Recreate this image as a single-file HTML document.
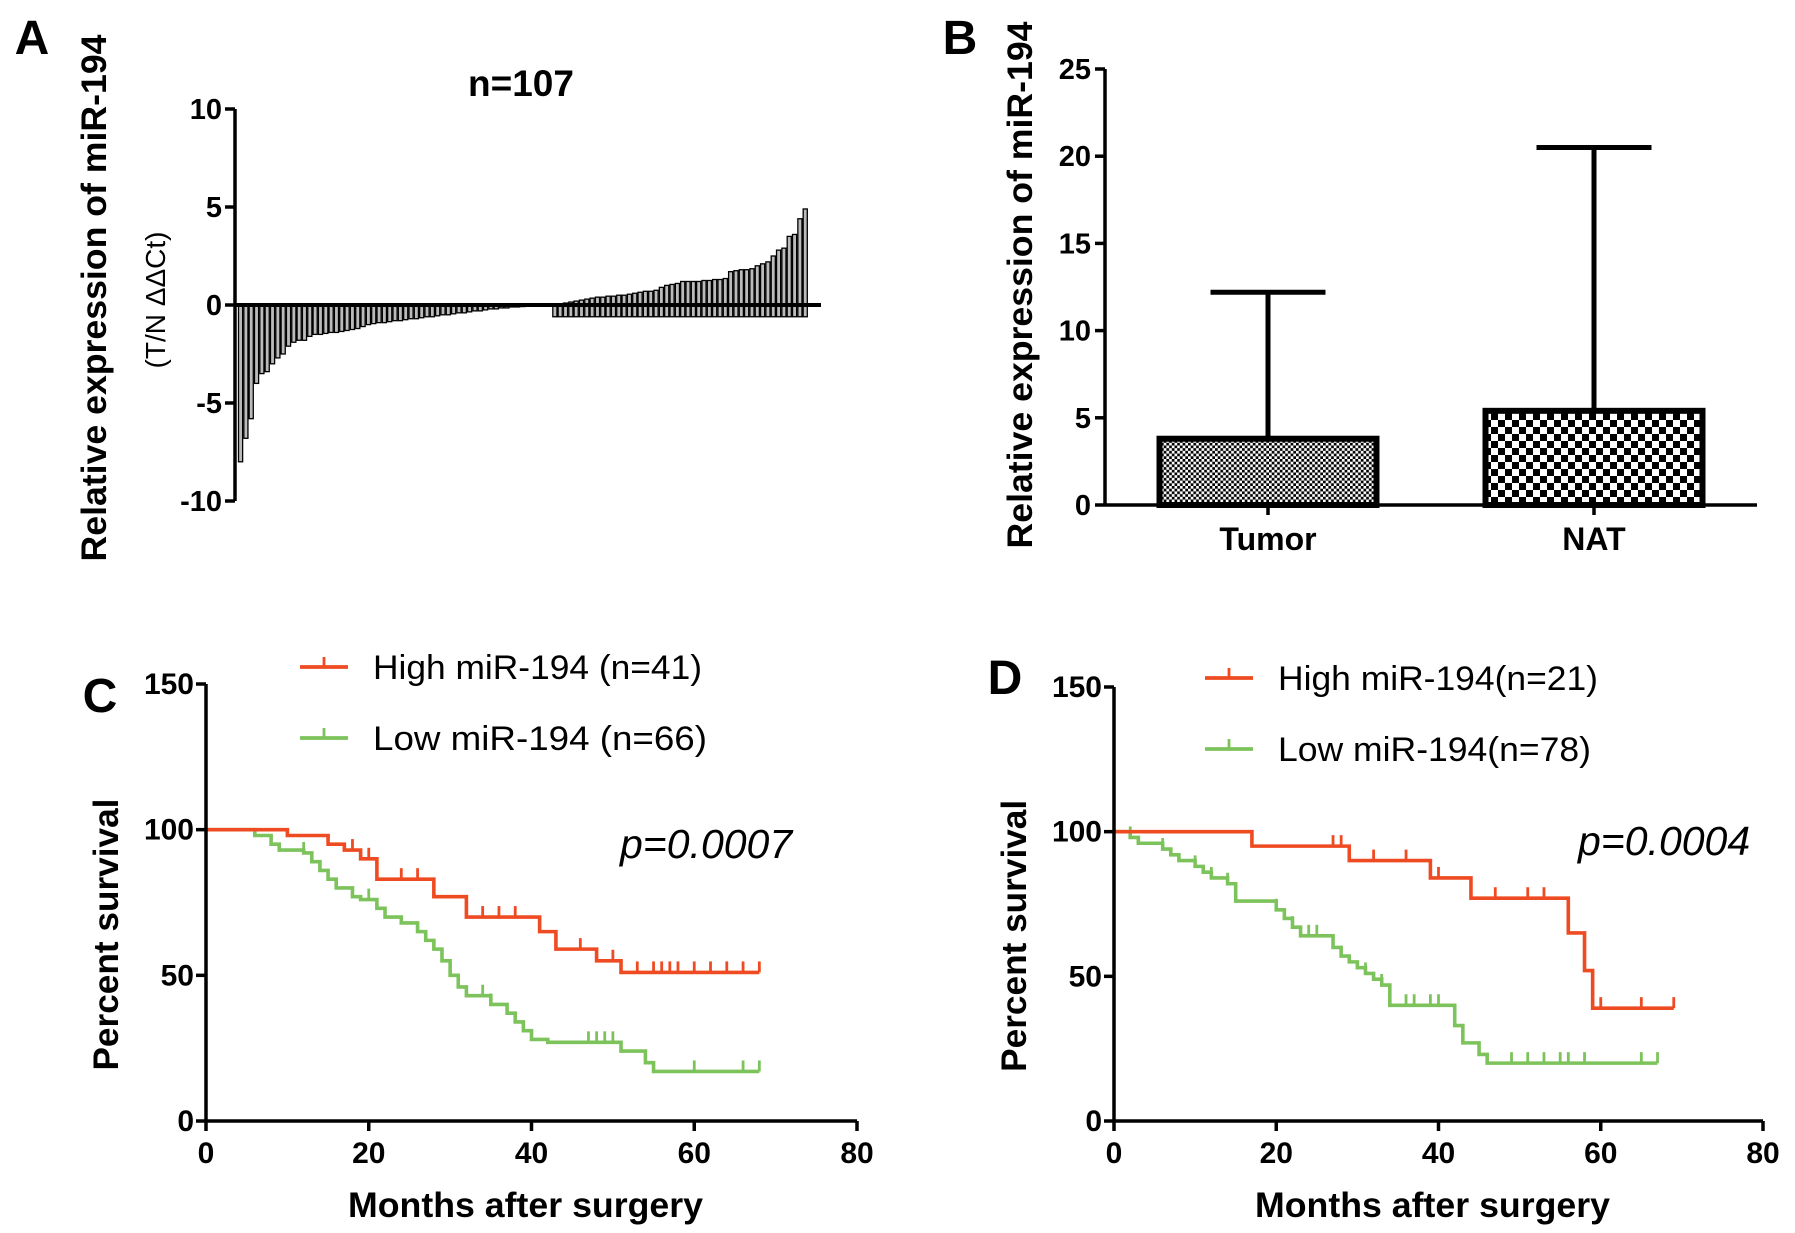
<!DOCTYPE html>
<html><head><meta charset="utf-8"><style>
html,body{margin:0;padding:0;background:#fff;}
svg{display:block;font-family:"Liberation Sans",Arial,sans-serif;}
.t{font-weight:bold;fill:#000;}
</style></head><body>
<svg id="fig" width="1795" height="1233" viewBox="0 0 1795 1233">
<defs>
<pattern id="fine" width="5.4" height="5.4" patternUnits="userSpaceOnUse"><rect width="5.4" height="5.4" fill="#fff"/><rect width="2.7" height="2.7" fill="#000"/><rect x="2.7" y="2.7" width="2.7" height="2.7" fill="#000"/></pattern>
<pattern id="coarse" width="14" height="14" patternUnits="userSpaceOnUse"><rect width="14" height="14" fill="#fff"/><rect width="7" height="7" fill="#000"/><rect x="7" y="7" width="7" height="7" fill="#000"/></pattern>
</defs>
<g id="pA"></g>
<g id="pB"></g>
<g id="pC"></g>
<g id="pD"></g>
</svg>
<script>
// Panel A data
const aValues = [-8,-6.8,-5.8,-4,-3.5,-3.4,-3,-2.7,-2.5,-2.1,-1.9,-1.8,-1.8,-1.6,-1.5,-1.5,-1.45,-1.4,-1.4,-1.35,-1.3,-1.25,-1.2,-1.1,-1.0,-0.95,-0.9,-0.9,-0.85,-0.8,-0.8,-0.75,-0.7,-0.7,-0.65,-0.6,-0.6,-0.55,-0.5,-0.5,-0.45,-0.4,-0.4,-0.35,-0.3,-0.3,-0.25,-0.2,-0.2,-0.15,-0.15,-0.1,-0.1,-0.08,-0.05,-0.05,-0.03,-0.02,-0.01,0.02,0.05,0.1,0.15,0.2,0.25,0.3,0.35,0.4,0.4,0.45,0.45,0.5,0.5,0.55,0.6,0.65,0.7,0.7,0.75,0.9,1.0,1.05,1.1,1.2,1.2,1.2,1.2,1.25,1.25,1.3,1.3,1.35,1.7,1.75,1.8,1.8,1.85,2.0,2.1,2.2,2.5,2.8,2.9,3.5,3.6,4.4,4.9];
const aTicks = [10,5,0,-5,-10];
// Panel B data
const bCategories = ["Tumor","NAT"];
const bMeans = [3.8,5.4];
const bErrors = [12.2,20.5];
const bTicks = [0,5,10,15,20,25];
// Panel C data
const cHighT = [0,10,15,17,19,21,28,32,41,43,48,51,68];
const cHighS = [100,98,95,93,90,83,77,70,65,59,55,51,51];
const cHighCens = [18,20,24,26,34,36,38,46,48,50,53,55,56,57,58,60,62,64,66,68];
const cLowT = [0,6,8,9,12,13,14,15,16,18,19,21,22,24,26,27,28,29,30,31,32,35,37,38,39,40,42,51,54,55,68];
const cLowS = [100,98,95,93,92,89,86,83,80,77,76,73,70,68,65,62,59,55,50,46,43,40,37,34,31,28,27,24,20,17,17];
const cLowCens = [12,20,34,35,47,48,49,50,60,66,68];
// Panel D data
const dHighT = [0,17,29,39,44,56,58,59,69];
const dHighS = [100,95,90,84,77,65,52,39,39];
const dHighCens = [27,28,32,36,40,47,51,53,60,65,69];
const dLowT = [0,2,3,6,7,8,10,11,12,14,15,20,21,22,23,27,28,29,30,31,32,33,34,42,43,45,46,67];
const dLowS = [100,98,96,94,92,90,88,86,84,82,76,73,70,67,64,60,57,55,53,51,49,47,40,33,27,23,20,20];
const dLowCens = [2,6,10,12,14,20,22,24,25,31,33,36,37,39,40,49,51,53,55,56,58,65,67];
const kmXTicks = [0,20,40,60,80];
const kmYTicks = [0,50,100,150];

const NS="http://www.w3.org/2000/svg";
function mk(parent,tag,attrs,text){const e=document.createElementNS(NS,tag);for(const k in attrs)e.setAttribute(k,attrs[k]);if(text!==undefined)e.textContent=text;parent.appendChild(e);return e;}

// ---- Panel A
(function(){
const g=document.getElementById('pA');
const x0=235,xEnd=821,barL=238,barR=808;
const y=v=>305-v*19.6;
let e=mk(g,'text',{x:32,y:54,'font-size':48,class:'t','text-anchor':'middle'},'A');

e=mk(g,'text',{x:521,y:96,'font-size':37,class:'t','text-anchor':'middle'},'n=107');

e=mk(g,'text',{x:0,y:0,'font-size':35,class:'t','text-anchor':'middle',textLength:527,lengthAdjust:'spacingAndGlyphs',transform:'translate(106,298) rotate(-90)'},'Relative expression of miR-194');

e=mk(g,'text',{x:0,y:0,'font-size':28,'text-anchor':'middle',transform:'translate(165,300) rotate(-90)'},'(T/N ΔΔCt)');

const w=(barR-barL)/aValues.length;
aValues.forEach((v,i)=>{
 const bx=barL+i*w;
 const top=v>=0?y(v):y(0), bot=v>=0?y(-0.6):y(v);
 const r=mk(g,'rect',{x:bx+0.5,y:top,width:Math.max(w-1.2,1),height:Math.max(bot-top,1),fill:'#bbb',stroke:'#000','stroke-width':1.3});
 
});
e=mk(g,'line',{x1:x0,y1:y(10),x2:x0,y2:y(-10),stroke:'#000','stroke-width':3.5});

e=mk(g,'line',{x1:x0,y1:y(0),x2:xEnd,y2:y(0),stroke:'#000','stroke-width':4});

aTicks.forEach(t=>{
 mk(g,'line',{x1:x0-10,y1:y(t),x2:x0,y2:y(t),stroke:'#000','stroke-width':3.5});
 const l=mk(g,'text',{x:x0-13,y:y(t)+10,'font-size':29,class:'t','text-anchor':'end'},String(t));
 
});
})();

// ---- Panel B
(function(){
const g=document.getElementById('pB');
const x0=1105,xEnd=1757;
const y=v=>505-v*17.44;
const centers=[1268,1594],bw=217,capW=115;
let e=mk(g,'text',{x:960,y:54,'font-size':48,class:'t','text-anchor':'middle'},'B');

e=mk(g,'text',{x:0,y:0,'font-size':35,class:'t','text-anchor':'middle',textLength:527,lengthAdjust:'spacingAndGlyphs',transform:'translate(1032,285) rotate(-90)'},'Relative expression of miR-194');

bCategories.forEach((c,i)=>{
 const cx=centers[i];
 const l=mk(g,'line',{x1:cx,y1:y(bErrors[i]),x2:cx,y2:y(bMeans[i]),stroke:'#000','stroke-width':5});
 
 mk(g,'line',{x1:cx-capW/2,y1:y(bErrors[i]),x2:cx+capW/2,y2:y(bErrors[i]),stroke:'#000','stroke-width':5});
 const r=mk(g,'rect',{x:cx-bw/2,y:y(bMeans[i]),width:bw,height:y(0)-y(bMeans[i]),fill:i===0?'url(#fine)':'url(#coarse)',stroke:'#000','stroke-width':6});
 
 mk(g,'line',{x1:cx,y1:y(0),x2:cx,y2:y(0)+10,stroke:'#000','stroke-width':3.5});
 const t=mk(g,'text',{x:cx,y:550,'font-size':32,class:'t','text-anchor':'middle'},c);
 
});
e=mk(g,'line',{x1:x0,y1:y(25),x2:x0,y2:y(0),stroke:'#000','stroke-width':3.5});

e=mk(g,'line',{x1:x0,y1:y(0),x2:xEnd,y2:y(0),stroke:'#000','stroke-width':3.5});

bTicks.forEach(t=>{
 mk(g,'line',{x1:x0-10,y1:y(t),x2:x0,y2:y(t),stroke:'#000','stroke-width':3.5});
 const l=mk(g,'text',{x:x0-14,y:y(t)+10,'font-size':29,class:'t','text-anchor':'end'},String(t));
 
});
})();

// ---- KM panels
function km(gid,letter,letX,letY,ox,ex,oy,ty,legX,legY1,legY2,hiLabel,loLabel,hiW,loW,pX,pY,hiT,hiS,hiC,loT,loS,loC){
 const g=document.getElementById(gid);
 const x=v=>ox+(ex-ox)*v/80, y=v=>oy-(oy-ty)*v/150;
 const red='#ef4b23',green='#7dc35b';
 let e=mk(g,'text',{x:letX,y:letY,'font-size':48,class:'t','text-anchor':'middle'},letter);
 
 function curve(T,S,C,col,name){
  let d='M'+x(T[0])+','+y(S[0]);
  for(let i=1;i<T.length;i++){d+=' H'+x(T[i])+' V'+y(S[i]);}
  const p=mk(g,'path',{d:d,fill:'none',stroke:col,'stroke-width':3.6});
  
  C.forEach(c=>{
   let s=S[0];for(let i=0;i<T.length;i++){if(T[i]<=c)s=S[i];}
   const m=mk(g,'line',{x1:x(c),y1:y(s)-11,x2:x(c),y2:y(s),stroke:col,'stroke-width':2.8});
   
  });
 }
 curve(loT,loS,loC,green,'low-mir194');
 curve(hiT,hiS,hiC,red,'high-mir194');
 e=mk(g,'line',{x1:ox,y1:ty,x2:ox,y2:oy,stroke:'#000','stroke-width':3.5});
 
 e=mk(g,'line',{x1:ox,y1:oy,x2:ex,y2:oy,stroke:'#000','stroke-width':3.5});
 
 kmXTicks.forEach(t=>{
  mk(g,'line',{x1:x(t),y1:oy,x2:x(t),y2:oy+10,stroke:'#000','stroke-width':3.5});
  const l=mk(g,'text',{x:x(t),y:oy+42,'font-size':30,class:'t','text-anchor':'middle'},String(t));
  
 });
 kmYTicks.forEach(t=>{
  mk(g,'line',{x1:ox-10,y1:y(t),x2:ox,y2:y(t),stroke:'#000','stroke-width':3.5});
  const l=mk(g,'text',{x:ox-12,y:y(t)+10,'font-size':30,class:'t','text-anchor':'end'},String(t));
  
 });
 e=mk(g,'text',{x:(ox+ex)/2-6,y:oy+96,'font-size':35,class:'t','text-anchor':'middle',textLength:355,lengthAdjust:'spacingAndGlyphs'},'Months after surgery');
 
 e=mk(g,'text',{x:0,y:0,'font-size':35,class:'t','text-anchor':'middle',textLength:272,lengthAdjust:'spacingAndGlyphs',transform:'translate('+(ox-88)+','+y(64)+') rotate(-90)'},'Percent survival');
 
 [[legY1,red,hiLabel,'legend-entry-high',hiW],[legY2,green,loLabel,'legend-entry-low',loW]].forEach(r=>{
  const lg=mk(g,'g',{});
  
  mk(lg,'line',{x1:legX,y1:r[0],x2:legX+48,y2:r[0],stroke:r[1],'stroke-width':3.8});
  mk(lg,'line',{x1:legX+24,y1:r[0]-10,x2:legX+24,y2:r[0],stroke:r[1],'stroke-width':2.8});
  mk(lg,'text',{x:legX+73,y:r[0]+12,'font-size':34,fill:'#000',textLength:r[4],lengthAdjust:'spacingAndGlyphs'},r[2]);
 });
 e=mk(g,'text',{x:pX,y:pY,'font-size':41,'font-style':'italic',fill:'#000'},letter==='C'?'p=0.0007':'p=0.0004');
 
}
km('pC','C',100,712,206,857,1121,684,300,667,738,'High miR-194 (n=41)','Low miR-194  (n=66)',329,334,620,858,cHighT,cHighS,cHighCens,cLowT,cLowS,cLowCens);
km('pD','D',1005,694,1114,1763,1121,687,1205,678,749,'High miR-194(n=21)','Low miR-194(n=78)',320,313,1578,855,dHighT,dHighS,dHighCens,dLowT,dLowS,dLowCens);
</script>
</body></html>
